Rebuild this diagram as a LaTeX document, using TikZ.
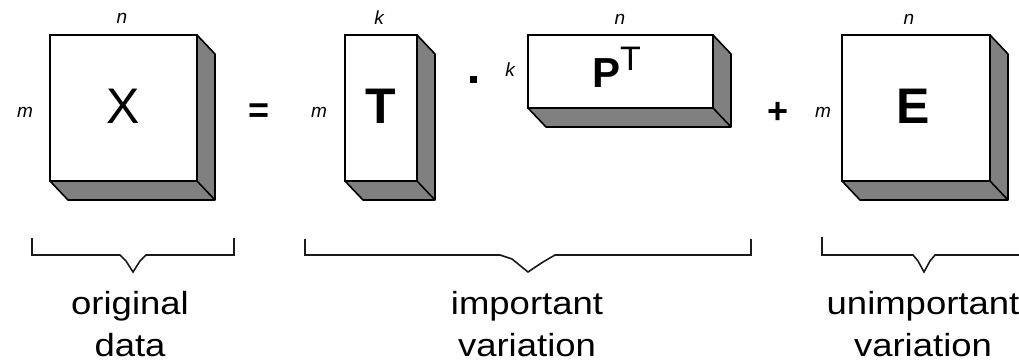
\documentclass[tikz,border=0pt]{standalone}
\usepackage{graphicx}
\usepackage{fontspec}
\setmainfont{Liberation Sans}
\definecolor{shade}{HTML}{808080}
\definecolor{bracecol}{HTML}{1A1A1A}
\newcommand\sxx[1]{\scalebox{1.14}[1]{#1}}
\begin{document}
\begin{tikzpicture}[x=1pt,y=-1pt,
  face/.style={draw=black, line width=1.6pt, fill=white, inner sep=0pt, outer sep=0pt},
  side/.style={draw=black, line width=1.6pt, fill=shade, line join=round},
  edge3d/.style={draw=black, line width=1.6pt},
  dim/.style={font=\fontsize{19}{19}\selectfont\itshape, inner sep=0pt},
  op/.style={font=\fontsize{36}{36}\selectfont\bfseries, inner sep=0pt},
  bracket/.style={draw=bracecol, line width=1.6pt, line join=miter},
  caption/.style={align=center, inner sep=0pt, anchor=north, font=\fontsize{32}{42}\selectfont}]
\useasboundingbox (0,0) rectangle (1019,362);

% front faces
\node[face, minimum width=147pt, minimum height=146pt] (X) at (123.5,108)
  {\raisebox{4pt}{\fontsize{50}{50}\selectfont X}};
\node[face, minimum width=72pt, minimum height=146pt] (T) at (381,108)
  {\raisebox{4pt}{\fontsize{50}{50}\selectfont\bfseries T}};
\node[face, minimum width=185pt, minimum height=73pt] (P) at (620.5,71.5)
  {\raisebox{7.5pt}{\hspace*{-8pt}{\fontsize{42}{42}\selectfont\bfseries P}\raisebox{17pt}{\fontsize{34}{34}\selectfont T}}};
\node[face, minimum width=148pt, minimum height=146pt] (E) at (916,108)
  {\raisebox{4pt}{\hspace*{-6pt}\fontsize{50}{50}\selectfont\bfseries E}};

% 3D sides
\foreach \b in {X,T,P,E}{
  \draw[side] (\b.north east) -- ([shift={(18,19)}]\b.north east)
     -- ([shift={(18,19)}]\b.south east) -- ([shift={(18,19)}]\b.south west)
     -- (\b.south west) -- (\b.south east) -- cycle;
  \draw[edge3d] (\b.south east) -- ([shift={(18,19)}]\b.south east);
}

% dimension labels
\node[dim] (nX) at (122,18) {n};
\node[dim] (mX) at (25,112) {m};
\node[dim] (kT) at (379,18) {k};
\node[dim] (mT) at (319,112) {m};
\node[dim] (kP) at (510,70) {k};
\node[dim] (nP) at (620,19) {n};
\node[dim] (nE) at (909,19) {n};
\node[dim] (mE) at (823,112) {m};

% operators
\node[op] (eq) at (259,113) {=};
\node[inner sep=0pt] (dot) at (473.5,79) {\rule{7pt}{7pt}};
\node[op] (plus) at (778,113) {+};

% brackets
\draw[bracket] (32,238) -- (32,255) -- (120,255) -- (126,261) -- (133,272) -- (140,261) -- (146,255) -- (234,255) -- (234,238);
\draw[bracket] (305,239) -- (305,255) -- (500,255) -- (512,259) -- (528,272) -- (543,262) -- (555,255) -- (751,255) -- (751,239);
\draw[bracket] (822,237) -- (822,255) -- (913,255) -- (918,261) -- (924,272) -- (930,261) -- (935,255) -- (1030,255) -- (1030,238);

% captions
\node[caption] (c1) at (130,291) {\sxx{original}\\\sxx{data}};
\node[caption] (c2) at (527,291) {\sxx{important}\\\sxx{variation}};
\node[caption] (c3) at (923,291) {\sxx{unimportant}\\\sxx{variation}};
\end{tikzpicture}
\end{document}
